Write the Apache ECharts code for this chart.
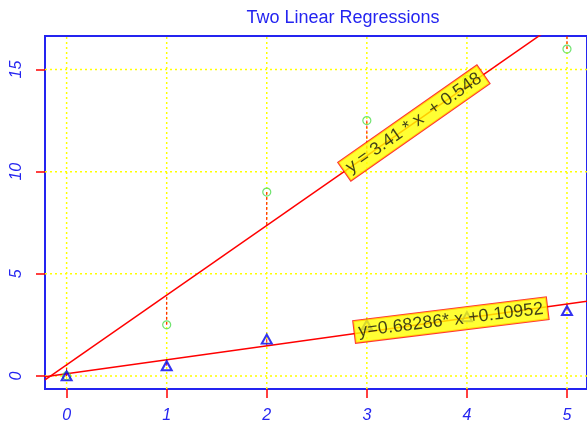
<!DOCTYPE html>
<html>
<head>
<meta charset="utf-8">
<script src="https://cdn.jsdelivr.net/npm/echarts@6/dist/echarts.min.js"></script>
<style>
html,body{margin:0;padding:0;background:#ffffff;}
#chart{width:587px;height:424px;}
</style>
</head>
<body>
<div id="chart"></div>
<script>
// ---- data ----
const xValues = [0, 1, 2, 3, 4, 5];
const seriesA = [0, 2.5, 9, 12.5, 14.5, 16];      // green circles
const seriesB = [0, 0.5, 1.8, 2.5, 2.9, 3.2];     // blue triangles
const slopes = [3.41, 0.68286];
const intercepts = [0.548, 0.10952];
const equationLabels = ["y = 3.41 * x  + 0.548", "y=0.68286* x +0.10952"];
const xTicks = [0, 1, 2, 3, 4, 5];
const yTicks = [0, 5, 10, 15];
const titleText = "Two Linear Regressions";

// ---- layout constants ----
const X_MIN = -0.216, X_MAX = 5.2;
const Y_MIN = -0.64, Y_MAX = 16.64;
const labelAt = [3.47, 3.84];
const labelAngle = [35, 7];

const fit = (i, x) => slopes[i] * x + intercepts[i];
const clampY = v => Math.max(Y_MIN, Math.min(Y_MAX, v));

const ptsA = xValues.map((x, i) => [x, seriesA[i]]);
const ptsB = xValues.map((x, i) => [x, seriesB[i]]);
const residData = [];
xValues.forEach((x, i) => {
  residData.push([x, seriesA[i]], [x, clampY(fit(0, x))], [x, '-']);
  residData.push([x, seriesB[i]], [x, clampY(fit(1, x))], [x, '-']);
});
const regLine = i => [[X_MIN, fit(i, X_MIN)], [X_MAX, fit(i, X_MAX)]];

// grid lines at the tick values, drawn through the axes
const gridData = [];
xTicks.forEach(t => gridData.push([t, Y_MIN], [t, Y_MAX], [t, '-']));
yTicks.forEach(t => gridData.push([X_MIN, t], [X_MAX, t], ['-', t]));

const FONT = "'Liberation Sans', Arial, sans-serif";
const BLUE = '#2424f0';

const chart = echarts.init(document.getElementById('chart'), null, {renderer: 'canvas'});
chart.setOption({
  animation: false,
  backgroundColor: '#ffffff',
  title: {
    text: titleText,
    left: 343, top: 9, padding: 0,
    textAlign: 'center',
    textStyle: {color: BLUE, fontSize: 18, fontWeight: 'normal', fontFamily: FONT}
  },
  grid: {
    left: 45, top: 36, width: 544, height: 353,
    show: true, borderColor: BLUE, borderWidth: 2, backgroundColor: 'transparent'
  },
  xAxis: {
    type: 'value', min: X_MIN, max: X_MAX,
    axisLine: {show: true, onZero: false, lineStyle: {color: BLUE, width: 2}},
    axisTick: {show: true, customValues: xTicks, length: 9, lineStyle: {color: '#ff0000', width: 1.5}},
    axisLabel: {customValues: xTicks, margin: 19, color: BLUE, fontSize: 16, fontStyle: 'italic', fontFamily: FONT},
    splitLine: {show: false}
  },
  yAxis: {
    type: 'value', min: Y_MIN, max: Y_MAX,
    axisLine: {show: true, onZero: false, lineStyle: {color: BLUE, width: 2}},
    axisTick: {show: true, customValues: yTicks, length: 9, lineStyle: {color: '#ff0000', width: 1.5}},
    axisLabel: {customValues: yTicks, margin: 20, rotate: 90, color: BLUE, fontSize: 16, fontStyle: 'italic', fontFamily: FONT},
    splitLine: {show: false}
  },
  series: [
    {
      type: 'line', data: gridData, showSymbol: false, symbol: 'none', connectNulls: false, clip: true, z: 1,
      silent: true,
      lineStyle: {color: '#ffff00', width: 1.5, type: [2, 3]}
    },
    {
      type: 'line', data: residData, showSymbol: false, symbol: 'none', connectNulls: false, clip: true, z: 2,
      lineStyle: {color: '#ff0000', width: 1, type: [3, 2]}
    },
    {
      type: 'line', data: regLine(0), showSymbol: false, symbol: 'none', clip: true, z: 3,
      lineStyle: {color: '#ff0000', width: 1.5}
    },
    {
      type: 'line', data: regLine(1), showSymbol: false, symbol: 'none', clip: true, z: 3,
      lineStyle: {color: '#ff0000', width: 1.5}
    },
    {
      type: 'scatter', data: ptsA, symbol: 'circle', symbolSize: 8, z: 4,
      itemStyle: {color: 'rgba(0,0,0,0)', borderColor: '#4cdc4c', borderWidth: 1.2}
    },
    {
      type: 'scatter', data: ptsB, symbol: 'triangle', symbolSize: [10, 9], z: 5,
      itemStyle: {color: 'rgba(0,0,0,0)', borderColor: '#0000ee', borderWidth: 2}
    },
    {
      type: 'scatter', z: 10, symbolSize: 0, silent: true,
      data: labelAt.map((x, i) => ({
        value: [x, fit(i, x)],
        label: {
          show: true, position: 'inside', rotate: labelAngle[i],
          formatter: equationLabels[i],
          color: '#111111', fontSize: 18, fontFamily: FONT,
          backgroundColor: '#ffff00', borderColor: '#ff0000', borderWidth: 1,
          padding: [2, 4]
        }
      }))
    }
  ]
});
</script>
</body>
</html>
